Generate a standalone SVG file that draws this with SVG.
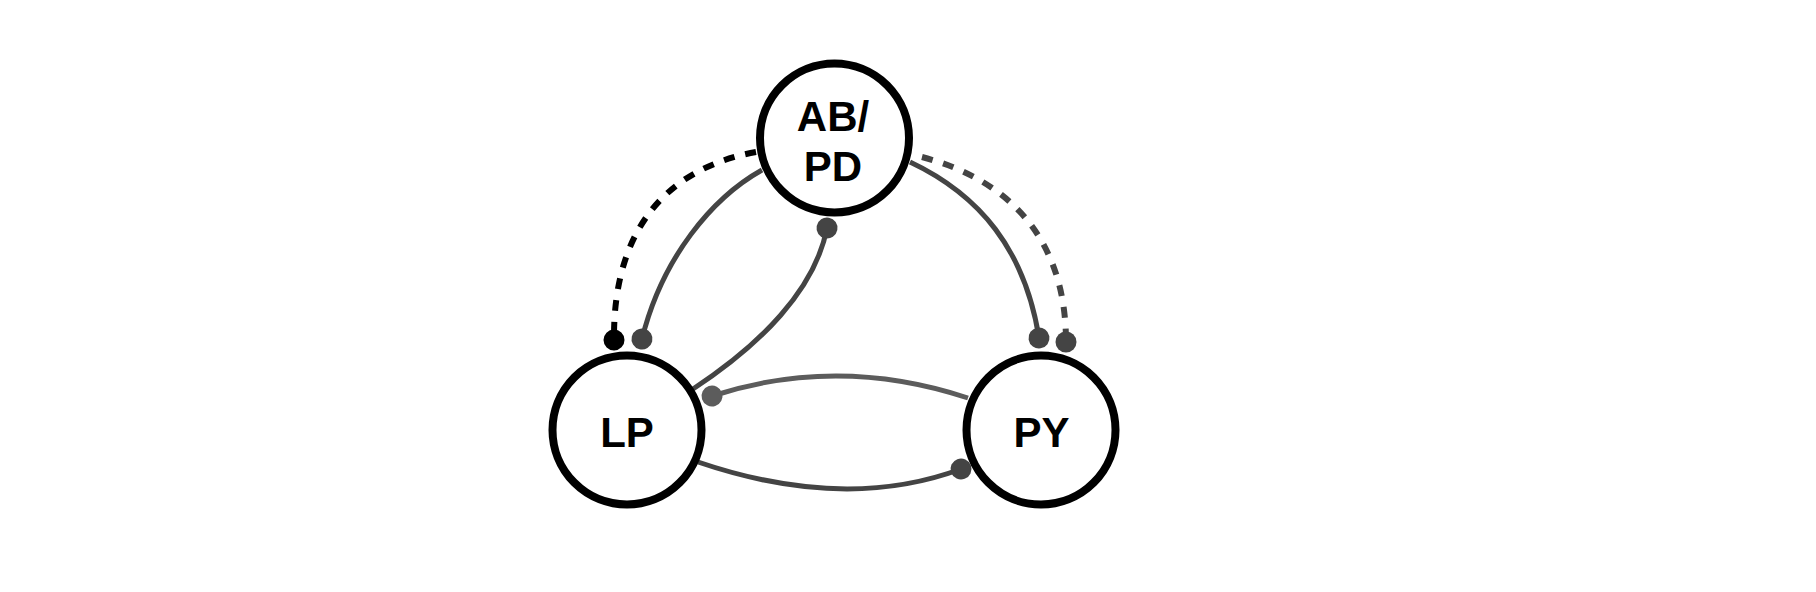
<svg xmlns="http://www.w3.org/2000/svg" width="1816" height="592" viewBox="0 0 1816 592">
<style>
.node{fill:#fff;stroke:#000;stroke-width:8}
.lbl{font-family:"Liberation Sans",Arial,sans-serif;font-weight:bold;font-size:42px;fill:#000;text-anchor:middle}
.c{fill:none;stroke-width:5}
.dk{stroke:#444}
.lt{stroke:#5c5c5c}
.dash{stroke-width:6;stroke-dasharray:11 11}
</style>
<defs>
<marker id="mBlack" markerUnits="userSpaceOnUse" markerWidth="24" markerHeight="24" refX="12" refY="12" orient="auto" overflow="visible"><circle cx="12" cy="12" r="10.5" fill="#000"/></marker>
<marker id="mDark" markerUnits="userSpaceOnUse" markerWidth="24" markerHeight="24" refX="12" refY="12" orient="auto" overflow="visible"><circle cx="12" cy="12" r="10.5" fill="#444"/></marker>
<marker id="mLight" markerUnits="userSpaceOnUse" markerWidth="24" markerHeight="24" refX="12" refY="12" orient="auto" overflow="visible"><circle cx="12" cy="12" r="10.5" fill="#5c5c5c"/></marker>
</defs>
<rect width="1816" height="592" fill="#fff"/>
<g id="connectors">
<path class="c dash" stroke="#000" d="M 756 152 C 668 168 613 228 614 340" marker-end="url(#mBlack)"/>
<path class="c dk" d="M 762 170 C 712 198 662 258 642 339" marker-end="url(#mDark)"/>
<path class="c dk" d="M 693 389 C 760 345 815 290 827 228" marker-end="url(#mDark)"/>
<path class="c dk" d="M 910 162 C 980 195 1025 250 1039 338" marker-end="url(#mDark)"/>
<path class="c dk dash" d="M 922 157 C 1010 180 1066 240 1066 342" marker-end="url(#mDark)"/>
<path class="c lt" d="M 968 398 Q 838 355 712 396" marker-end="url(#mLight)"/>
<path class="c dk" d="M 698 462 Q 845 512 961 469" marker-end="url(#mDark)"/>
</g>
<g id="node-abpd">
<circle class="node" cx="834.5" cy="138" r="74.5"/>
<text class="lbl" x="833" y="131">AB/</text>
<text class="lbl" x="833" y="180.5">PD</text>
</g>
<g id="node-lp">
<circle class="node" cx="627" cy="430" r="74.5"/>
<text class="lbl" x="627" y="446.5">LP</text>
</g>
<g id="node-py">
<circle class="node" cx="1041" cy="430" r="74.5"/>
<text class="lbl" x="1041.5" y="446.5">PY</text>
</g>
</svg>
